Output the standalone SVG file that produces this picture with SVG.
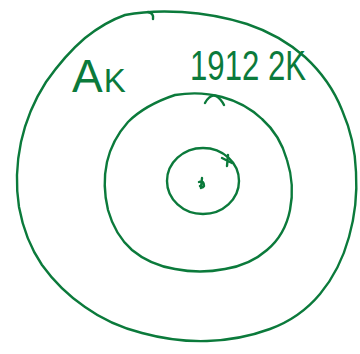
<svg xmlns="http://www.w3.org/2000/svg" width="360" height="354" viewBox="0 0 360 354">
<style>
.ink{fill:none;stroke:#0b7a3b;stroke-width:2.4;stroke-linecap:round;stroke-linejoin:round}
.lbl{fill:#0b7a3b;font-family:"Liberation Sans",Arial,sans-serif}
</style>
<rect width="360" height="354" fill="#fff"/>
<g id="outer">
<path class="ink" d="M125,15 Q150,10 182,12 Q215,14 247,24 Q280,35 305,57 Q330,80 342,110 Q355,140 356,172 Q358,205 349,237 Q340,270 320,294 Q300,318 270,329 Q240,340 207,341 Q175,342 142,333 Q110,325 85,307 Q60,290 42,265 Q25,240 19,207 Q14,175 21,142 Q28,110 46,82 Q65,55 85,38 Q105,22 125,15 Z"/>
<path class="ink" d="M148,12 Q154,13 153,19"/>
</g>
<g id="middle">
<path class="ink" d="M175,95 Q200,91 222,97 Q245,103 262,119 Q280,135 287,160 Q295,185 290,210 Q285,235 267,250 Q250,265 225,269 Q200,274 175,269 Q150,265 132,250 Q115,235 108,210 Q102,185 107,162 Q112,140 128,122 Q145,105 175,95 Z"/>
<path class="ink" d="M205,103 Q210,94 216,96 Q221,99 224,105"/>
</g>
<g id="inner">
<ellipse class="ink" cx="203" cy="181" rx="36" ry="33"/>
<path class="ink" d="M222,158 L232,163 M228,155 L227,166"/>
<path class="ink" d="M202,178 L201,188 M199,182 Q204,180 204,186 Q202,189 200,186"/>
</g>
<g id="labels">
<text class="lbl" x="72" y="92" font-size="46">A<tspan font-size="33" dx="1">K</tspan></text>
<text class="lbl" x="190" y="80" font-size="42" textLength="116" lengthAdjust="spacingAndGlyphs">1912 2K</text>
</g>
</svg>
